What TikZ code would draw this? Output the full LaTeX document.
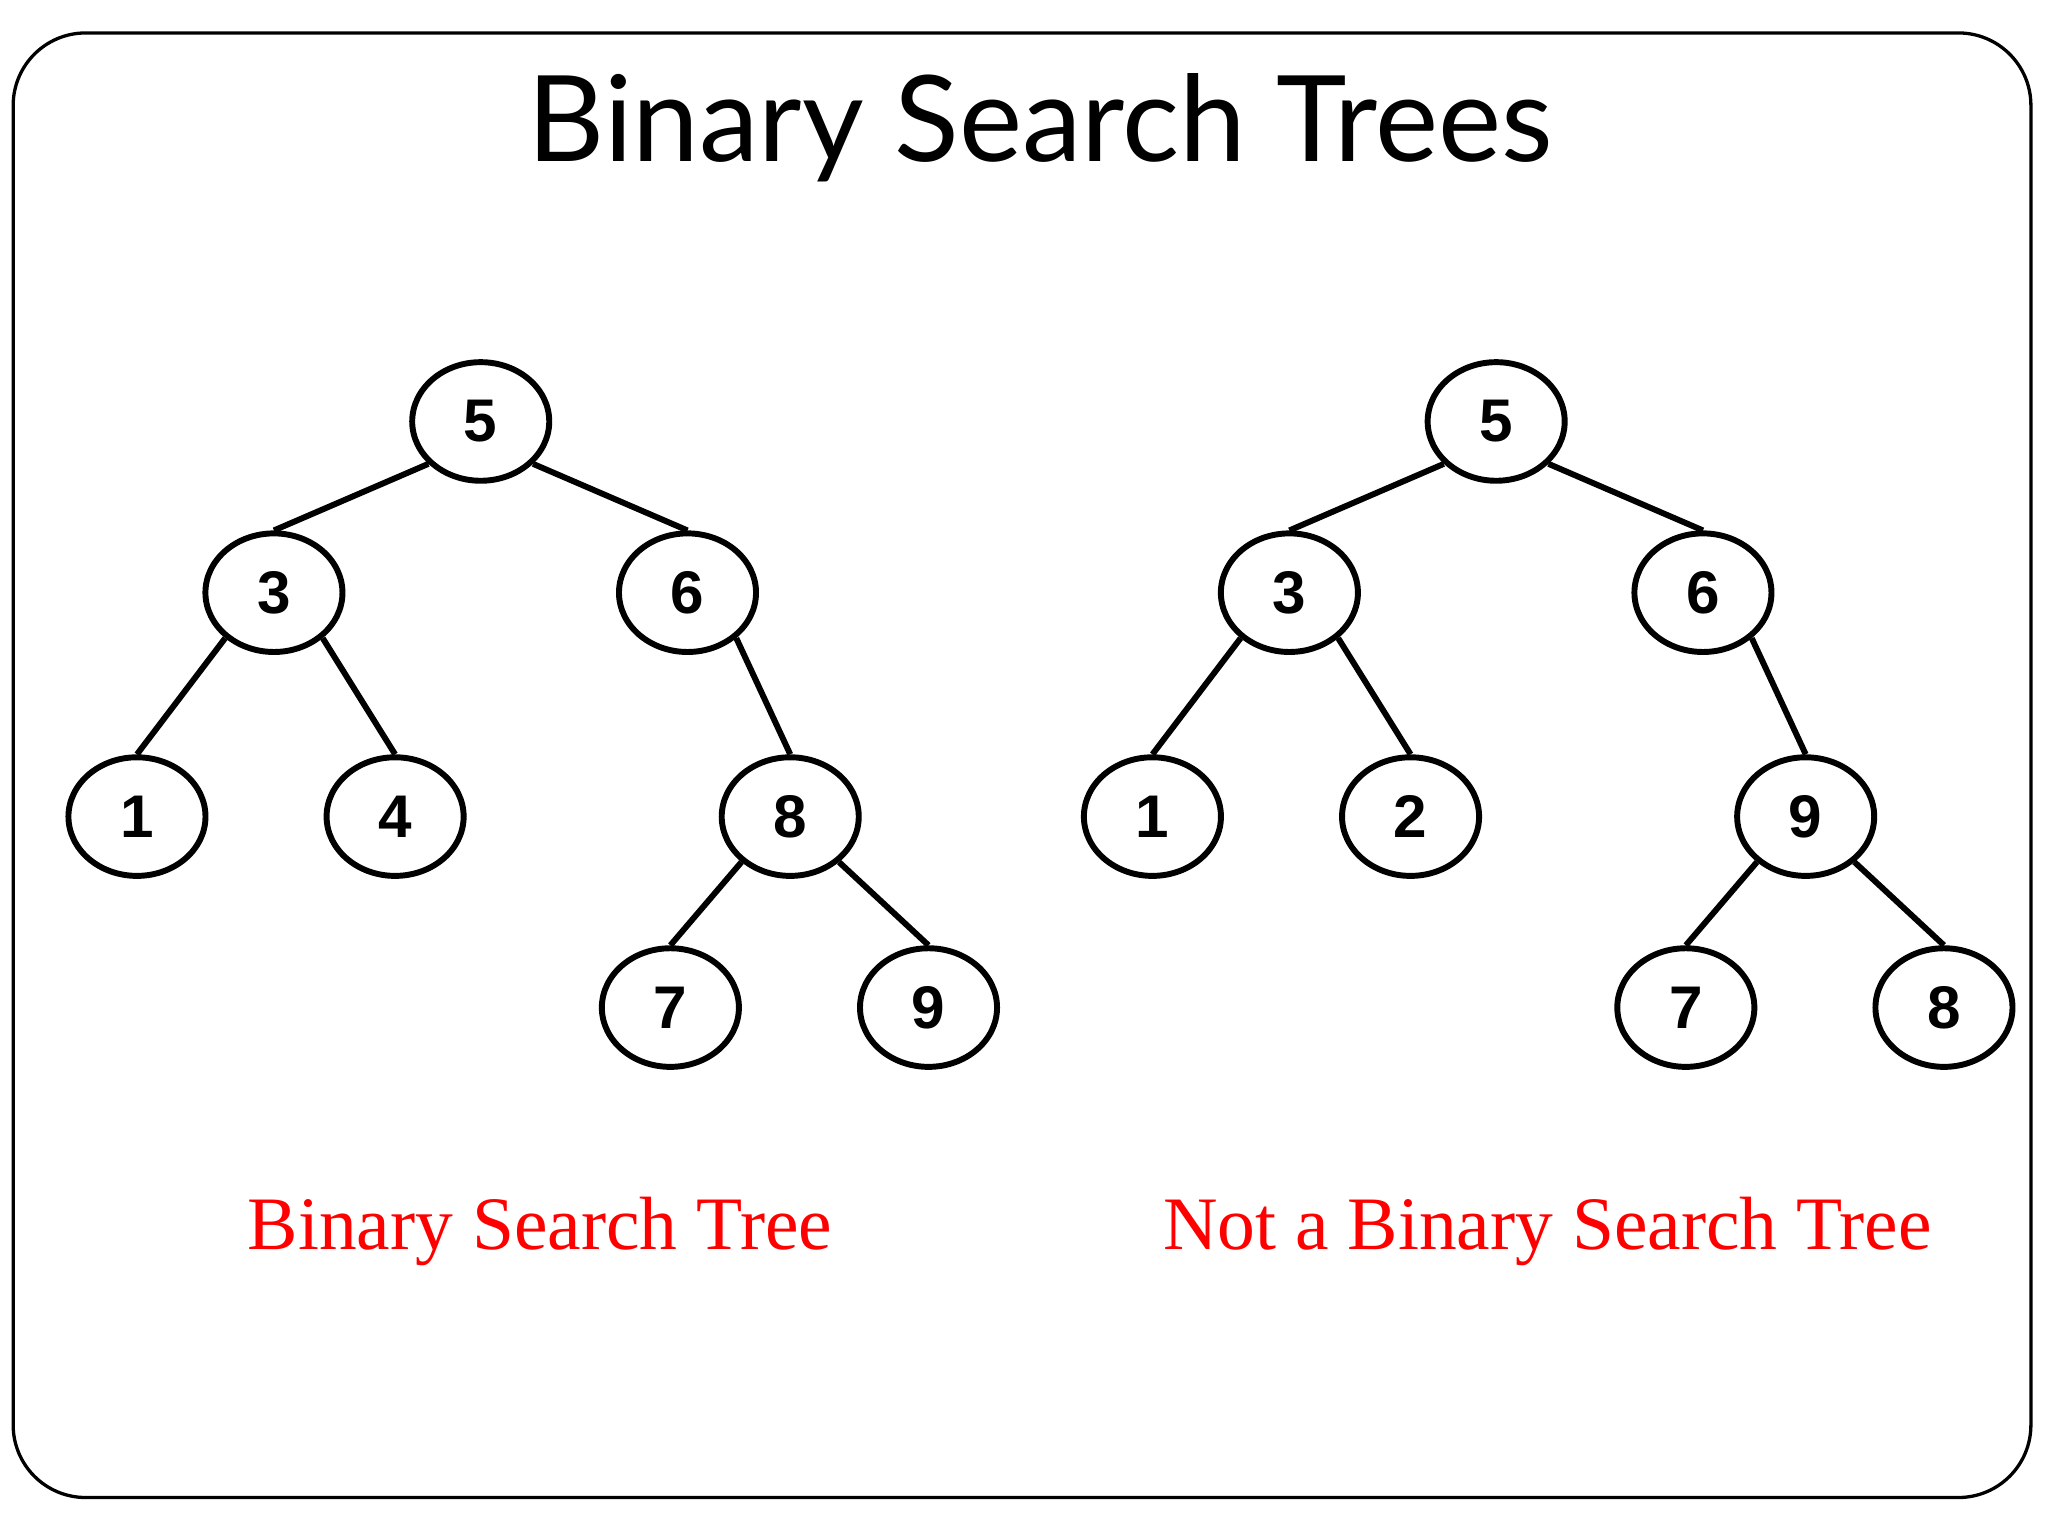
\documentclass[tikz,border=0pt]{standalone}
\usepackage{fontspec}
\setmainfont{Liberation Serif}
\newfontfamily\titlefont{Lato}
\newfontfamily\numfont{Liberation Sans}
\usetikzlibrary{shapes.geometric}
\begin{document}
\begin{tikzpicture}[x=0.01cm,y=-0.01cm,
  tn/.style={ellipse,draw,line width=0.045cm,minimum width=1.04cm,minimum height=0.9cm,inner sep=0pt,font=\numfont\bfseries\fontsize{13}{15}\selectfont},
  ed/.style={line width=0.045cm},
  lab/.style={text=red,font=\fontsize{16.3}{20}\selectfont}]
\useasboundingbox (0,0) rectangle (1555,1166);
\draw[line width=0.025cm,rounded corners=0.55cm] (10,25) rectangle (1542,1137);
\node[font=\titlefont\fontsize{25.8}{30}\selectfont] (title) at (790,97) {Binary Search Trees};
% left
\node[tn] (a5) at (365,320) {5};
\node[tn] (a3) at (208,450) {3};
\node[tn] (a6) at (522,450) {6};
\node[tn] (a1) at (104,620) {1};
\node[tn] (a4) at (300,620) {4};
\node[tn] (a8) at (600,620) {8};
\node[tn] (a7) at (509,765) {7};
\node[tn] (a9) at (705,765) {9};
\draw[ed] (a5.-141)--(a3.north) (a5.-39)--(a6.north) (a3.-137)--(a1.north) (a3.-43)--(a4.north) (a6.-43)--(a8.north) (a8.-137)--(a7.north) (a8.-43)--(a9.north);
% right
\node[tn] (b5) at (1136,320) {5};
\node[tn] (b3) at (979,450) {3};
\node[tn] (b6) at (1293,450) {6};
\node[tn] (b1) at (875,620) {1};
\node[tn] (b2) at (1071,620) {2};
\node[tn] (b9) at (1371,620) {9};
\node[tn] (b7) at (1280,765) {7};
\node[tn] (b8) at (1476,765) {8};
\draw[ed] (b5.-141)--(b3.north) (b5.-39)--(b6.north) (b3.-137)--(b1.north) (b3.-43)--(b2.north) (b6.-43)--(b9.north) (b9.-137)--(b7.north) (b9.-43)--(b8.north);
\node[lab] (l1) at (410,935) {Binary Search Tree};
\node[lab] (l2) at (1175,935) {Not a Binary Search Tree};
\end{tikzpicture}
\end{document}
